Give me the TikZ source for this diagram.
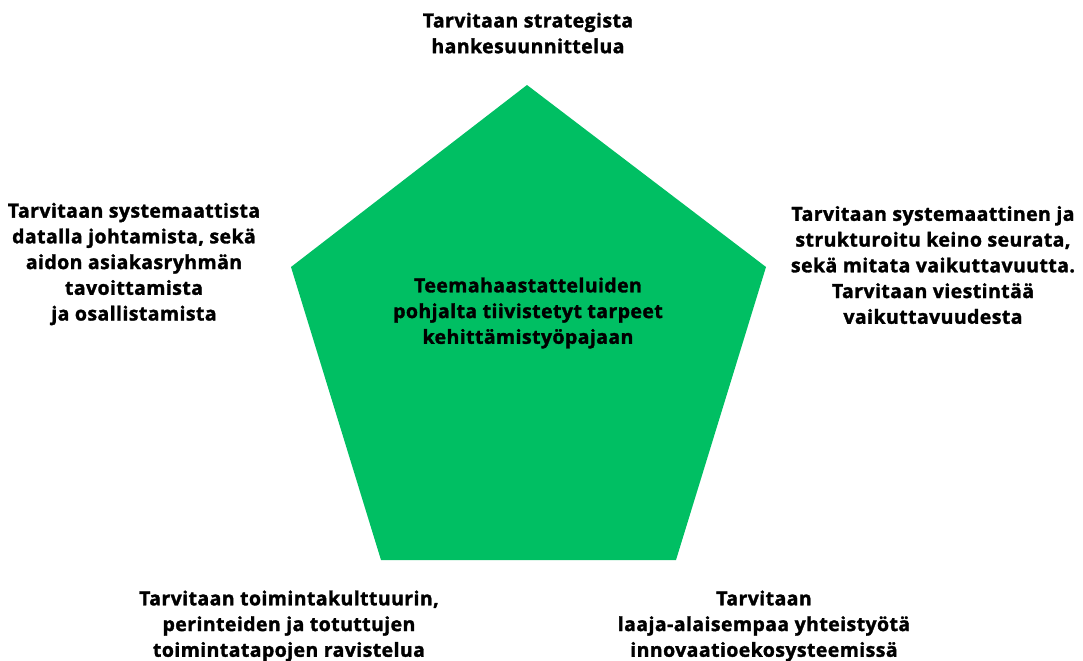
\documentclass[tikz,border=0pt]{standalone}
\usepackage{fontspec}
\setmainfont{Open Sans}[BoldFeatures={FakeBold=1.6, LetterSpace=2.2}]
\definecolor{pentagreen}{HTML}{00BF63}
\tikzset{
  lbl/.style={align=center, font=\fontsize{14.6}{19.3}\selectfont\bfseries, text=black, inner sep=0pt}
}
\begin{document}
\begin{tikzpicture}[x=0.75pt, y=-0.75pt]
\useasboundingbox (0,0) rectangle (1083,661);
% pentagon
\coordinate (ptop) at (527,85);
\coordinate (pright) at (766,267);
\coordinate (pbr) at (676,560);
\coordinate (pbl) at (381,560);
\coordinate (pleft) at (291,267);
\fill[pentagreen] (ptop) -- (pright) -- (pbr) -- (pbl) -- (pleft) -- cycle;
% labels
\node[lbl] (center) at (528,313) {Teemahaastatteluiden\\pohjalta tiivistetyt tarpeet\\kehittämistyöpajaan};
\node[lbl] (top) at (528,33) {Tarvitaan strategista\\hankesuunnittelua};
\node[lbl] (left) at (134,264) {Tarvitaan systemaattista\\datalla johtamista, sekä\\aidon asiakasryhmän\\tavoittamista\\ja osallistamista};
\node[lbl] (right) at (933,265) {Tarvitaan systemaattinen ja\\strukturoitu keino seurata,\\sekä mitata vaikuttavuutta.\\Tarvitaan viestintää\\vaikuttavuudesta};
\node[lbl] (bl) at (289,626) {Tarvitaan toimintakulttuurin,\\perinteiden ja totuttujen\\toimintatapojen ravistelua};
\node[lbl] (br) at (764,626) {Tarvitaan\\laaja-alaisempaa yhteistyötä\\innovaatioekosysteemissä};
\end{tikzpicture}
\end{document}
